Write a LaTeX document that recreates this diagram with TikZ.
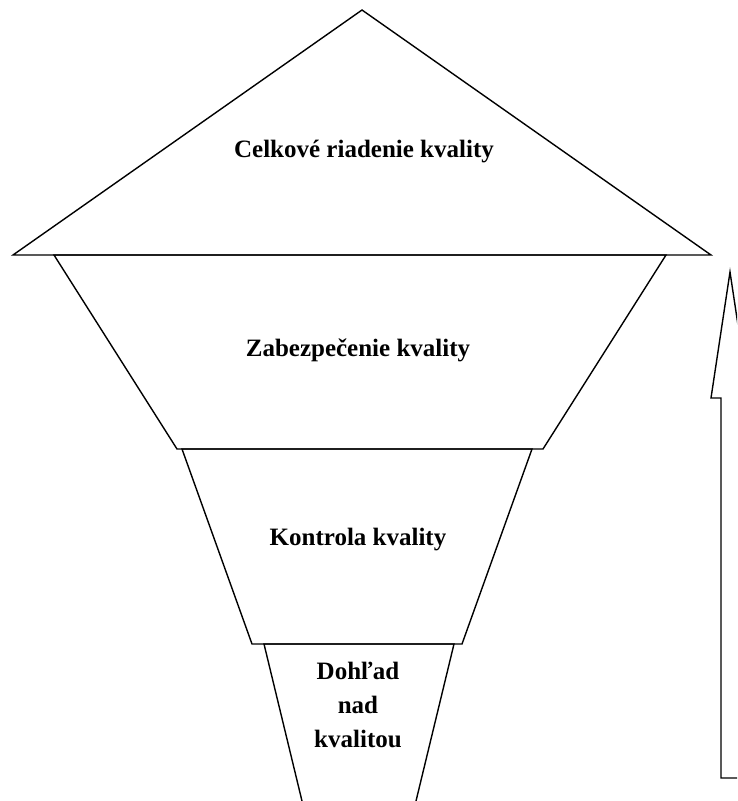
\documentclass[tikz,border=0pt]{standalone}
\usepackage{fontspec}
\setmainfont{Liberation Serif}
\begin{document}
\begin{tikzpicture}[x=1pt,y=-1pt,
  edge/.style={draw=black,line width=1.4pt,line join=miter},
  lbl/.style={font=\fontsize{25}{34}\selectfont\bfseries,align=center,inner sep=0pt}]
\useasboundingbox (0,0) rectangle (737,801);
\clip (0,0) rectangle (737,801);
% coordinates
\coordinate (apex) at (362,10);
\coordinate (tl) at (13,255);
\coordinate (tr) at (711,255);
\coordinate (a1) at (54,255);
\coordinate (a2) at (666,255);
\coordinate (a3) at (543,449);
\coordinate (a4) at (177,449);
\coordinate (b1) at (182,449);
\coordinate (b2) at (532,449);
\coordinate (b3) at (462,644);
\coordinate (b4) at (252,644);
\coordinate (c1) at (264,644);
\coordinate (c2) at (454,644);
\coordinate (c3) at (416,801);
\coordinate (c4) at (302,801);
% shapes
\draw[edge] (apex) -- (tr) -- (tl) -- cycle;
\draw[edge] (a1) -- (a2) -- (a3) -- (a4) -- cycle;
\draw[edge] (b1) -- (b2) -- (b3) -- (b4) -- cycle;
\draw[edge] (c4) -- (c1) -- (c2) -- (c3);
% arrow (clipped at right edge)
\coordinate (tip) at (730,272);
\coordinate (ls) at (711,398);
\coordinate (lsh) at (721,398);
\coordinate (lb) at (721,778);
\coordinate (rb) at (739,778);
\coordinate (rsh) at (739,398);
\coordinate (rs) at (749,398);
\draw[edge] (tip) -- (ls) -- (lsh) -- (lb) -- (rb) -- (rsh) -- (rs) -- cycle;
% labels
\node[lbl] (t1) at (364,152) {Celkové riadenie kvality};
\node[lbl] (t2) at (358,350) {Zabezpečenie kvality};
\node[lbl] (t3) at (358,540) {Kontrola kvality};
\node[lbl] (t4) at (358,705) {Dohľad\\nad\\kvalitou};
\end{tikzpicture}
\end{document}
